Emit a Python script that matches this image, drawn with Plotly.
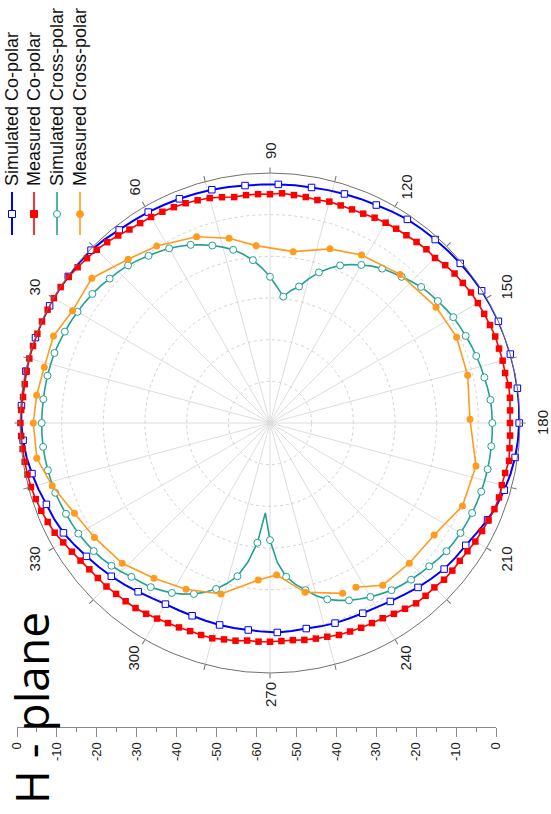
import math
import plotly.graph_objects as go

W, H = 551, 814

# ---------------- data ----------------
series_names = ["Simulated Co-polar", "Measured Co-polar",
                "Simulated Cross-polar", "Measured Cross-polar"]

# Simulated co-polar, every 4 deg
sim_co_theta = list(range(0, 360, 4))
sim_co_db = [
    -0.3, -0.2, -0.15, -0.1, -0.1, -0.1, -0.1, -0.1, -0.1, -0.15,
    -0.2, -0.3, -0.7, -1.2, -1.4, -1.55, -1.8, -1.97, -2.15, -2.3,
    -2.5, -2.7, -2.75, -2.7, -2.65, -2.6, -2.4, -2.2, -2.0, -1.8,
    -1.4, -1.05, -0.9, -0.75, -0.55, -0.4, -0.25, -0.1, -0.05, 0.0,
    0.0, 0.0, 0.0, -0.05, -0.1, -0.2, -0.35, -0.6, -1.0, -1.5,
    -2.1, -2.85, -3.8, -4.6, -5.0, -5.45, -6.2, -6.9, -7.7, -8.35,
    -8.9, -9.2, -9.4, -9.5, -9.7, -9.9, -9.8, -9.7, -9.9, -10.05,
    -10.05, -10.05, -10.1, -10.1, -10.0, -9.8, -9.3, -8.6, -7.8, -7.05,
    -6.3, -5.55, -4.7, -3.85, -3.3, -2.9, -2.2, -1.6, -1.0, -0.6,
]

# Measured co-polar, every 3 deg
meas_co_theta = list(range(0, 360, 3))
meas_co_db = [
    -0.1, -0.2, -0.4, -0.4, -0.3, -0.2, -0.2, -0.2, -0.1, -0.1,
    -0.1, -0.1, -0.3, -0.6, -0.9, -1.2, -1.6, -2.1, -2.6, -2.8,
    -2.9, -3.1, -3.3, -3.5, -3.8, -4.1, -4.6, -5.1, -5.0, -5.0,
    -5.1, -4.8, -5.0, -5.1, -5.3, -5.0, -5.1, -5.1, -5.0, -4.7,
    -4.5, -4.4, -4.3, -4.1, -3.9, -4.0, -3.4, -3.0, -2.8, -2.5,
    -2.4, -2.3, -2.2, -2.1, -2.2, -2.2, -2.3, -2.0, -2.1, -2.3,
    -2.4, -2.3, -2.2, -1.9, -2.3, -2.4, -2.2, -2.3, -2.6, -2.9,
    -3.1, -3.5, -3.7, -3.7, -3.8, -4.2, -4.2, -4.3, -4.9, -5.4,
    -5.9, -6.1, -6.2, -6.4, -6.5, -6.9, -7.1, -7.3, -7.6, -7.6,
    -7.5, -7.45, -7.5, -7.1, -6.9, -6.5, -6.5, -6.5, -6.3, -6.1,
    -5.8, -5.4, -5.1, -4.95, -4.8, -4.5, -4.4, -4.2, -3.8, -3.3,
    -2.7, -2.0, -1.6, -1.2, -0.9, -0.6, -0.5, -0.4, -0.3, -0.2,
]

# Simulated cross-polar, every 3 deg
sim_x_theta = list(range(0, 360, 3))
sim_x_db = [
    -5.2, -5.25, -5.3, -5.35, -5.4, -5.5, -5.6, -5.85, -6.1, -6.35,
    -6.65, -6.95, -7.3, -7.7, -8.2, -8.6, -9.1, -9.7, -10.4, -11.0,
    -11.6, -12.4, -13.2, -14.2, -15.2, -16.3, -17.5, -19.0, -20.7, -22.7,
    -24.9, -27.3, -29.5, -27.8, -26.5, -24.2, -22.0, -20.2, -18.6, -17.3,
    -16.2, -15.1, -14.2, -13.5, -12.8, -12.0, -11.2, -10.7, -10.2, -9.7,
    -9.2, -8.9, -8.6, -8.25, -7.95, -7.65, -7.4, -7.1, -6.8, -6.7,
    -6.65, -6.6, -6.6, -6.6, -6.6, -6.65, -6.7, -6.8, -6.9, -7.05,
    -7.2, -7.4, -7.65, -8.1, -8.6, -9.0, -9.4, -9.9, -10.4, -11.1,
    -11.8, -12.6, -13.4, -14.4, -15.5, -17.1, -19.0, -20.8, -22.9, -26.5,
    -31.9, -38.4, -31.1, -26.2, -22.4, -20.1, -18.1, -16.5, -15.1, -13.9,
    -12.9, -12.1, -11.3, -10.8, -10.3, -9.5, -8.8, -8.2, -7.7, -7.3,
    -6.9, -6.65, -6.4, -6.1, -5.8, -5.65, -5.5, -5.35, -5.25, -5.2,
]

# Measured cross-polar (None = gap in the measurement)
meas_x_theta = [0, 6.8, 13.9, 21.9, 29.6, 39.1, 49.1, 57.4, 68.5, 77.5,
                85.5, 97.7, 109, 118.6, 131.2, 145.1, 155.3, 166.4, 178.9, 191.8,
                203.3, 214.3, 225.2, 235.2, 242.4, 245, 246.9, 258.3, 267.5, 274.3,
                286, 296.8, 306.8, 316.5, 326.9, 335.2, 343.9, 351.4]
meas_x_db = [-3.2, -3.6, -4.2, -4.0, -5.5, -4.9, -8.0, -9.55, -11.95, -14.6,
             -17.3, -18.5, -15.8, -14.1, -12.6, -11.4, -10.7, -11.2, -12.0, -9.5,
             -9.7, -12.3, -12.55, -12.6, -15.5, None, -15.55, -18.5, -23.5, -22.2,
             -17.3, -15.3, -13.5, -11.1, -9.7, -8.3, -5.6, -3.4]

angle_ticks = list(range(0, 360, 15))
angle_labels = ["", "", "30", "", "60", "", "90", "", "120", "", "150", "",
                "180", "", "210", "", "240", "", "270", "", "300", "", "330", ""]
ring_db = [-50, -40, -30, -20, -10]

scale_pos = [-60, -50, -40, -30, -20, -10, 0, 10, 20, 30, 40, 50, 60]
scale_labels = ["0", "-10", "-20", "-30", "-40", "-50", "-60",
                "-50", "-40", "-30", "-20", "-10", "0"]

title_text = "H - plane"

# ---------------- styling / layout geometry ----------------
BLUE, RED, TEAL, ORANGE = "#0000ff", "#ff0000", "#22a196", "#ff9b1e"
FONT = "Liberation Sans, Arial, sans-serif"
POLAR_L, POLAR_R, POLAR_T, POLAR_B = 20, 520, 173, 673   # pixel box of the polar plot
LABEL_R = 272                                            # pixel radius of angle labels


def closed(th, r):
    return list(th) + [th[0] + 360], list(r) + [r[0]]


def px(x):
    return x / W


def py(y):
    return 1 - y / H


fig = go.Figure()

# Simulated co-polar
t, r = closed(sim_co_theta, sim_co_db)
fig.add_trace(go.Scatterpolar(theta=t, r=r, mode="lines",
                              line=dict(color=BLUE, width=2), showlegend=False))
fig.add_trace(go.Scatterpolar(theta=sim_co_theta[1::2], r=sim_co_db[1::2], mode="markers",
                              marker=dict(symbol="square", size=6.5, color="white",
                                          line=dict(color=BLUE, width=1)),
                              showlegend=False))
# Measured co-polar
t, r = closed(meas_co_theta, meas_co_db)
fig.add_trace(go.Scatterpolar(theta=t, r=r, mode="lines",
                              line=dict(color=RED, width=1.6), showlegend=False))
fig.add_trace(go.Scatterpolar(theta=meas_co_theta, r=meas_co_db, mode="markers",
                              marker=dict(symbol="square", size=6.5, color=RED),
                              showlegend=False))
# Simulated cross-polar
t, r = closed(sim_x_theta, sim_x_db)
fig.add_trace(go.Scatterpolar(theta=t, r=r, mode="lines",
                              line=dict(color=TEAL, width=1.6), showlegend=False))
fig.add_trace(go.Scatterpolar(theta=sim_x_theta[::2], r=sim_x_db[::2], mode="markers",
                              marker=dict(symbol="circle", size=7, color="white",
                                          line=dict(color=TEAL, width=1)),
                              showlegend=False))
# Measured cross-polar
t, r = closed(meas_x_theta, meas_x_db)
fig.add_trace(go.Scatterpolar(theta=t, r=r, mode="lines", connectgaps=False,
                              line=dict(color=ORANGE, width=1.6), showlegend=False))
fig.add_trace(go.Scatterpolar(theta=meas_x_theta, r=meas_x_db, mode="markers",
                              marker=dict(symbol="circle", size=7, color=ORANGE),
                              showlegend=False))

# invisible trace to hold the separate dB scale axis
fig.add_trace(go.Scatter(x=[scale_pos[0], scale_pos[-1]], y=[0, 0], mode="markers",
                         marker=dict(opacity=0), hoverinfo="skip", showlegend=False))

fig.update_layout(
    template="none",
    width=W, height=H,
    margin=dict(l=0, r=0, t=0, b=0, pad=0, autoexpand=False),
    paper_bgcolor="white", plot_bgcolor="rgba(0,0,0,0)",
    showlegend=False,
    font=dict(family=FONT, color="#222"),
    polar=dict(
        domain=dict(x=[px(POLAR_L), px(POLAR_R)], y=[py(POLAR_B), py(POLAR_T)]),
        bgcolor="white",
        radialaxis=dict(range=[-60, 0], tickmode="array", tickvals=ring_db,
                        showticklabels=False, ticks="", showline=False,
                        gridcolor="#d2d2d2", griddash="dot", gridwidth=1),
        angularaxis=dict(rotation=180, direction="clockwise", tickmode="array",
                         tickvals=angle_ticks, ticktext=angle_labels,
                         showticklabels=False,
                         showline=True, linecolor="#707070", linewidth=1,
                         ticks="outside", ticklen=5, tickcolor="#707070",
                         gridcolor="#dddddd", gridwidth=1),
    ),
    xaxis=dict(domain=[px(17), px(496)], range=[scale_pos[0], scale_pos[-1]],
               anchor="y", side="bottom", showgrid=False, zeroline=False,
               automargin=False,
               showline=True, linecolor="#8a8a8a", linewidth=1,
               ticks="outside", ticklen=9, tickcolor="#8a8a8a",
               tickmode="array", tickvals=scale_pos, ticktext=scale_labels,
               tickangle=-90, tickfont=dict(size=13, color="#222", family=FONT),
               minor=dict(dtick=5, tick0=0, ticks="outside", ticklen=4,
                          tickcolor="#8a8a8a", showgrid=False),
               fixedrange=True),
    yaxis=dict(domain=[py(727), py(700)], visible=False, fixedrange=True,
               automargin=False),
)

shapes = []
annotations = []

# angle labels of the polar axis, rotated like the rest of the figure
cx = (POLAR_L + POLAR_R) / 2
cy = (POLAR_T + POLAR_B) / 2
for val, lab in zip(angle_ticks, angle_labels):
    if not lab:
        continue
    a = math.radians(180 - val)          # rotation=180, clockwise
    annotations.append(dict(text=lab, xref="paper", yref="paper",
                            x=px(cx + LABEL_R * math.cos(a)),
                            y=py(cy - LABEL_R * math.sin(a)),
                            xanchor="center", yanchor="middle", textangle=-90,
                            showarrow=False,
                            font=dict(size=15, color="#222", family=FONT)))

# custom rotated legend
leg_x = [12, 34, 57, 80]
leg_colors = [BLUE, RED, TEAL, ORANGE]
for i, name in enumerate(series_names):
    x = leg_x[i]
    shapes.append(dict(type="line", xref="paper", yref="paper",
                       x0=px(x), x1=px(x), y0=py(235), y1=py(192),
                       line=dict(color=leg_colors[i], width=2 if i == 0 else 1.6)))
    s = 3.5
    if i in (0, 1):
        shapes.append(dict(type="rect", xref="paper", yref="paper",
                           x0=px(x - s), x1=px(x + s), y0=py(214 + s), y1=py(214 - s),
                           fillcolor="white" if i == 0 else RED,
                           line=dict(color=leg_colors[i], width=1)))
    else:
        shapes.append(dict(type="circle", xref="paper", yref="paper",
                           x0=px(x - s), x1=px(x + s), y0=py(214 + s), y1=py(214 - s),
                           fillcolor="white" if i == 2 else ORANGE,
                           line=dict(color=leg_colors[i], width=1)))
    annotations.append(dict(text=name, xref="paper", yref="paper",
                            x=px(x), y=py(188), xanchor="center", yanchor="bottom",
                            textangle=-90, showarrow=False,
                            font=dict(size=18, color="#111", family=FONT)))

annotations.append(dict(text=title_text, xref="paper", yref="paper",
                        x=px(31), y=py(806), xanchor="center", yanchor="bottom",
                        textangle=-90, showarrow=False,
                        font=dict(size=46, color="#000", family="Open Sans, sans-serif")))

fig.update_layout(shapes=shapes, annotations=annotations)

# remove the browser's default 8px page margin so the figure sits at the window origin
fig.write_html("out.html",
               config={"displayModeBar": False, "staticPlot": True},
               post_script="document.body.style.margin='0';"
                           "document.documentElement.style.overflow='hidden';")
